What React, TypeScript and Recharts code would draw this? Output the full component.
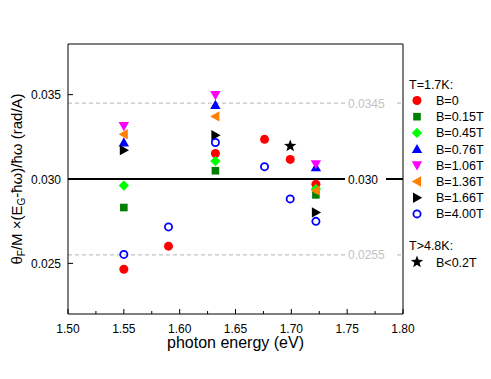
import React from 'react'
import {
  ScatterChart,
  Scatter,
  XAxis,
  YAxis,
  ReferenceLine,
  Label,
} from 'recharts'

// photon energy (eV) / normalized rotation (rad/A)
const b0 = [
  { x: 1.55, y: 0.02465 },
  { x: 1.59, y: 0.02602 },
  { x: 1.632, y: 0.03151 },
  { x: 1.676, y: 0.03235 },
  { x: 1.699, y: 0.03116 },
  { x: 1.722, y: 0.02969 },
]
const b015 = [
  { x: 1.55, y: 0.02831 },
  { x: 1.632, y: 0.03049 },
  { x: 1.722, y: 0.02906 },
]
const b045 = [
  { x: 1.55, y: 0.02961 },
  { x: 1.632, y: 0.03106 },
  { x: 1.722, y: 0.02941 },
]
const b076 = [
  { x: 1.55, y: 0.03216 },
  { x: 1.632, y: 0.03439 },
  { x: 1.722, y: 0.03069 },
]
const b106 = [
  { x: 1.55, y: 0.03314 },
  { x: 1.632, y: 0.03498 },
  { x: 1.722, y: 0.03088 },
]
const b136 = [
  { x: 1.55, y: 0.03265 },
  { x: 1.632, y: 0.03371 },
  { x: 1.722, y: 0.02931 },
]
const b166 = [
  { x: 1.55, y: 0.03171 },
  { x: 1.632, y: 0.03259 },
  { x: 1.722, y: 0.02802 },
]
const b400 = [
  { x: 1.55, y: 0.02553 },
  { x: 1.59, y: 0.02716 },
  { x: 1.632, y: 0.03216 },
  { x: 1.676, y: 0.03073 },
  { x: 1.699, y: 0.02882 },
  { x: 1.722, y: 0.02749 },
]
const hotLowField = [{ x: 1.699, y: 0.03196 }]

const xTicks = [1.5, 1.525, 1.55, 1.575, 1.6, 1.625, 1.65, 1.675, 1.7, 1.725, 1.75, 1.775, 1.8]
const yTicks = [0.025, 0.03, 0.035]
const refLevels = [
  { y: 0.0345, text: '0.0345', color: '#c3c3c3', gap: 49 },
  { y: 0.03, text: '0.030', color: '#000', gap: 41 },
  { y: 0.0255, text: '0.0255', color: '#c3c3c3', gap: 49 },
]

const FONT = '"Liberation Sans", Arial, sans-serif'

type Kind = 'circle' | 'square' | 'diamond' | 'up' | 'down' | 'left' | 'right' | 'open' | 'star'

const series: { name: string; data: { x: number; y: number }[]; kind: Kind; color: string }[] = [
  { name: 'B=0', data: b0, kind: 'circle', color: '#ff0000' },
  { name: 'B=0.15T', data: b015, kind: 'square', color: '#007f00' },
  { name: 'B=0.45T', data: b045, kind: 'diamond', color: '#00ff00' },
  { name: 'B=0.76T', data: b076, kind: 'up', color: '#0000ff' },
  { name: 'B=1.06T', data: b106, kind: 'down', color: '#ff00ff' },
  { name: 'B=1.36T', data: b136, kind: 'left', color: '#ff8000' },
  { name: 'B=1.66T', data: b166, kind: 'right', color: '#000000' },
  { name: 'B=4.00T', data: b400, kind: 'open', color: '#0000ff' },
]

function Marker({ cx, cy, kind, color }: { cx: number; cy: number; kind: Kind; color: string }) {
  switch (kind) {
    case 'circle':
      return <circle cx={cx} cy={cy} r={4.5} fill={color} />
    case 'open':
      return <circle cx={cx} cy={cy} r={3.6} fill="none" stroke={color} strokeWidth={1.8} />
    case 'square':
      return <rect x={cx - 3.8} y={cy - 3.8} width={7.6} height={7.6} fill={color} />
    case 'diamond':
      return <polygon points={`${cx},${cy - 5.2} ${cx + 5.2},${cy} ${cx},${cy + 5.2} ${cx - 5.2},${cy}`} fill={color} />
    case 'up':
      return <polygon points={`${cx},${cy - 5.2} ${cx + 5.2},${cy + 4} ${cx - 5.2},${cy + 4}`} fill={color} />
    case 'down':
      return <polygon points={`${cx},${cy + 5.2} ${cx + 5.2},${cy - 4} ${cx - 5.2},${cy - 4}`} fill={color} />
    case 'left':
      return <polygon points={`${cx - 5.2},${cy} ${cx + 4},${cy - 5.2} ${cx + 4},${cy + 5.2}`} fill={color} />
    case 'right':
      return <polygon points={`${cx + 5.2},${cy} ${cx - 4},${cy - 5.2} ${cx - 4},${cy + 5.2}`} fill={color} />
    case 'star': {
      const pts: string[] = []
      for (let i = 0; i < 10; i++) {
        const r = i % 2 === 0 ? 6.5 : 2.7
        const a = -Math.PI / 2 + (i * Math.PI) / 5
        pts.push(`${cx + r * Math.cos(a)},${cy + r * Math.sin(a)}`)
      }
      return <polygon points={pts.join(' ')} fill={color} />
    }
  }
  return null
}

const isMajor = (v: number) => Math.abs(v * 20 - Math.round(v * 20)) < 1e-6

function BottomTick({ x, y, payload }: any) {
  const major = isMajor(payload.value)
  return (
    <g>
      <line x1={x} x2={x} y1={y} y2={y - (major ? 5 : 3)} stroke="#000" />
      {major && (
        <text x={x} y={y + 18.5} textAnchor="middle" fontSize={12} fontFamily={FONT} fill="#000">
          {payload.value.toFixed(2)}
        </text>
      )}
    </g>
  )
}

function TopTick({ x, y, payload }: any) {
  const major = isMajor(payload.value)
  return <line x1={x} x2={x} y1={y} y2={y + (major ? 5 : 3)} stroke="#000" />
}

function LeftTick({ x, y, payload }: any) {
  return (
    <g>
      <line x1={x} x2={x + 5} y1={y} y2={y} stroke="#000" />
      <text x={x - 7} y={y + 4.5} textAnchor="end" fontSize={12} fontFamily={FONT} fill="#000">
        {payload.value.toFixed(3)}
      </text>
    </g>
  )
}

function RightTick({ x, y }: any) {
  return <line x1={x} x2={x - 5} y1={y} y2={y} stroke="#000" />
}

function YTitle({ viewBox }: any) {
  const cx = viewBox.x + 8
  const cy = viewBox.y + viewBox.height / 2
  return (
    <text
      x={cx}
      y={cy}
      transform={`rotate(-90 ${cx} ${cy})`}
      textAnchor="middle"
      dominantBaseline="central"
      fontSize={15}
      fontFamily={FONT}
      fill="#000"
    >
      θ
      <tspan baselineShift="sub" fontSize={10}>F</tspan>
      <tspan>/M ×(E</tspan>
      <tspan baselineShift="sub" fontSize={10}>G</tspan>
      <tspan>-ħω)/ħω (rad/A)</tspan>
    </text>
  )
}

function RefTag({ viewBox, text, color, gap }: any) {
  const right = viewBox.x + viewBox.width
  const y = viewBox.y
  return (
    <g>
      <rect x={right - 58} y={y - 7} width={gap} height={14} fill="#fff" />
      <text x={right - 55} y={y + 4.5} fontSize={12} fontFamily={FONT} fill={color}>
        {text}
      </text>
    </g>
  )
}

function LegendBox() {
  const rows = series.map((s, i) => ({ ...s, y: 100.5 + i * 16.2 }))
  return (
    <svg
      width={91}
      height={200}
      style={{ position: 'absolute', left: 400, top: 70, overflow: 'visible' }}
    >
      <g transform="translate(-400,-70)" fontFamily={FONT} fontSize={12.5} fill="#000">
        <text x={409} y={88.5}>T=1.7K:</text>
        {rows.map((r) => (
          <g key={r.name}>
            <Marker cx={417} cy={r.y} kind={r.kind} color={r.color} />
            <text x={436} y={r.y + 4.5}>{r.name}</text>
          </g>
        ))}
        <text x={409} y={249.5}>T&gt;4.8K:</text>
        <Marker cx={417} cy={262} kind="star" color="#000" />
        <text x={436} y={266.5}>B&lt;0.2T</text>
      </g>
    </svg>
  )
}

export default function App() {
  return (
    <div style={{ position: 'absolute', left: 0, top: 0, width: 491, height: 379, background: '#fff' }}>
      <ScatterChart width={491} height={379} margin={{ top: 43, right: 87, bottom: 25, left: 8 }}>
        <XAxis
          xAxisId="b"
          dataKey="x"
          type="number"
          domain={[1.5, 1.8]}
          ticks={xTicks}
          interval={0}
          tickSize={0}
          tickMargin={0}
          tick={<BottomTick />}
          height={40}
          axisLine={{ stroke: '#000' }}
        >
          <Label value="photon energy (eV)" position="insideBottom" offset={6} fontSize={16} fontFamily={FONT} fill="#000" />
        </XAxis>
        <XAxis
          xAxisId="t"
          orientation="top"
          dataKey="x"
          type="number"
          domain={[1.5, 1.8]}
          ticks={xTicks}
          interval={0}
          tickSize={0}
          tickMargin={0}
          tick={<TopTick />}
          height={1}
          axisLine={{ stroke: '#000' }}
        />
        <YAxis
          yAxisId="l"
          dataKey="y"
          type="number"
          domain={[0.022, 0.038]}
          ticks={yTicks}
          interval={0}
          tickSize={0}
          tickMargin={0}
          tick={<LeftTick />}
          width={60}
          axisLine={{ stroke: '#000' }}
        >
          <Label content={<YTitle />} />
        </YAxis>
        <YAxis
          yAxisId="r"
          orientation="right"
          dataKey="y"
          type="number"
          domain={[0.022, 0.038]}
          ticks={yTicks}
          interval={0}
          tickSize={0}
          tickMargin={0}
          tick={<RightTick />}
          width={1}
          axisLine={{ stroke: '#000' }}
        />
        {refLevels.map((r) => (
          <ReferenceLine
            key={r.text}
            xAxisId="b"
            yAxisId="l"
            y={r.y}
            stroke={r.color}
            strokeWidth={r.color === '#000' ? 2 : 1.3}
            strokeDasharray={r.color === '#000' ? undefined : '4 3'}
            label={<RefTag text={r.text} color={r.color} gap={r.gap} />}
          />
        ))}
        {series.map((s) => (
          <Scatter
            key={s.name}
            xAxisId="b"
            yAxisId="l"
            data={s.data}
            isAnimationActive={false}
            shape={(p: any) => <Marker cx={p.cx} cy={p.cy} kind={s.kind} color={s.color} />}
          />
        ))}
        <Scatter
          xAxisId="b"
          yAxisId="l"
          data={hotLowField}
          isAnimationActive={false}
          shape={(p: any) => <Marker cx={p.cx} cy={p.cy} kind="star" color="#000" />}
        />
      </ScatterChart>
      <LegendBox />
    </div>
  )
}
